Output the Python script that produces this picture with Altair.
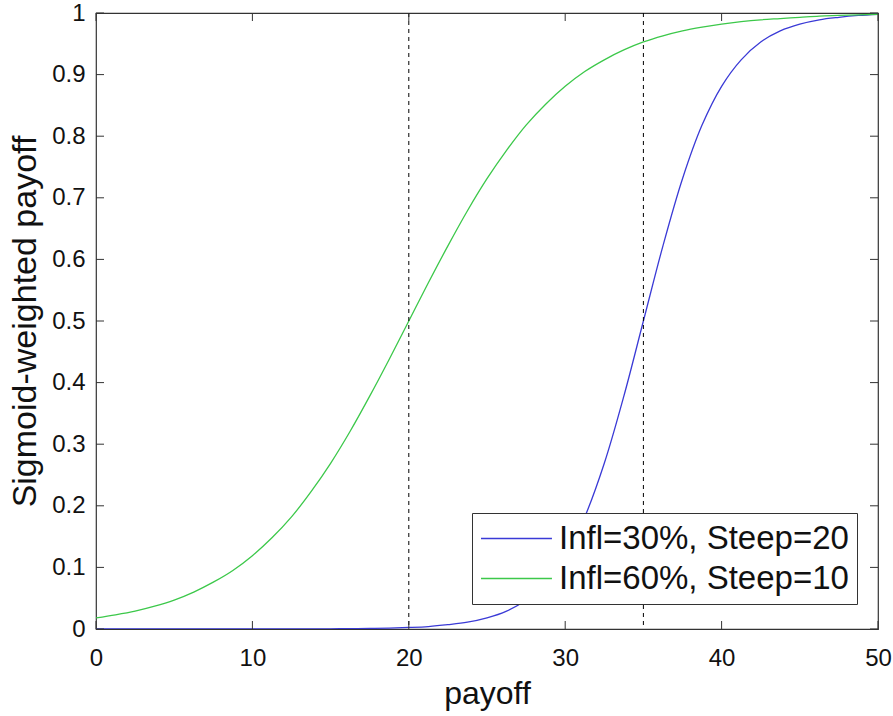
import altair as alt
import pandas as pd

# ---- data ----
payoff = [0, 1.25, 2.5, 3.75, 5, 6.25, 7.5, 8.75, 10, 11.25, 12.5, 13.75, 15, 16.25, 17.5, 18.75,
          20, 21.25, 22.5, 23.75, 25, 26.25, 27.5, 28.75, 30, 31.25, 32.5, 33.75, 35, 36.25,
          37.5, 38.75, 40, 41.25, 42.5, 43.75, 45, 46.25, 47.5, 48.75, 50]
infl30_steep20 = [0, 0, 0, 0, 0, 0, 0, 0, 0, 0.0001, 0.0001, 0.0002, 0.0003, 0.0005, 0.0009, 0.0015,
                  0.0025, 0.004, 0.007, 0.011, 0.018, 0.029, 0.047, 0.076, 0.119, 0.182, 0.269, 0.378,
                  0.500, 0.622, 0.731, 0.818, 0.881, 0.924, 0.953, 0.971, 0.982, 0.989, 0.993, 0.996,
                  0.998]
infl60_steep10 = [0.018, 0.023, 0.029, 0.037, 0.047, 0.060, 0.076, 0.095, 0.119, 0.148, 0.182, 0.223,
                  0.269, 0.321, 0.378, 0.438, 0.500, 0.562, 0.622, 0.679, 0.731, 0.777, 0.818, 0.852,
                  0.881, 0.905, 0.924, 0.940, 0.953, 0.963, 0.971, 0.977, 0.982, 0.986, 0.989, 0.991,
                  0.993, 0.995, 0.996, 0.997, 0.998]
series_names = ["Infl=30%, Steep=20", "Infl=60%, Steep=10"]
series_colors = ["#3a3ad6", "#3cc84a"]
dashed_x = [20, 35]
x_ticks = [0, 10, 20, 30, 40, 50]
y_ticks = [0, 0.1, 0.2, 0.3, 0.4, 0.5, 0.6, 0.7, 0.8, 0.9, 1]

rows = []
for name, vals in zip(series_names, [infl30_steep20, infl60_steep10]):
    for x, y in zip(payoff, vals):
        rows.append({"payoff": x, "value": y, "series": name})
df = pd.DataFrame(rows)

W, H = 782, 616
FONT = "Liberation Sans"
TICK_COLOR = "#333333"
xscale = alt.Scale(domain=[0, 50], nice=False, zero=False)
yscale = alt.Scale(domain=[0, 1], nice=False, zero=False)

x_axis = alt.Axis(values=x_ticks, title="payoff", ticks=False, domain=False, grid=False,
                  labelFontSize=24, labelFont=FONT, labelColor="#111", labelPadding=17,
                  labelFlush=False, labelOverlap=False,
                  titleFontSize=32, titleFont=FONT, titleFontWeight="normal", titleColor="#111",
                  titleX=W / 2, titleY=74, titleBaseline="alphabetic", titleAlign="center")
y_axis = alt.Axis(values=y_ticks, format="~g", title="Sigmoid-weighted payoff", ticks=False,
                  domain=False, grid=False,
                  labelFontSize=24, labelFont=FONT, labelColor="#111", labelPadding=11,
                  labelFlush=False, labelOverlap=False,
                  titleFontSize=34, titleFont=FONT, titleFontWeight="normal", titleColor="#111",
                  titleAngle=270, titleX=-61, titleY=H / 2, titleBaseline="alphabetic",
                  titleAlign="center")

lines = alt.Chart(df).mark_line(strokeWidth=1.3, interpolate="catmull-rom", clip=True).encode(
    x=alt.X("payoff:Q", scale=xscale, axis=x_axis),
    y=alt.Y("value:Q", scale=yscale, axis=y_axis),
    color=alt.Color("series:N", scale=alt.Scale(domain=series_names, range=series_colors),
                    legend=alt.Legend(orient="none", legendX=376, legendY=500, title=None,
                                      labelFontSize=33, labelFont=FONT, labelColor="#111",
                                      labelLimit=500, symbolType="M-1,0H3.3", symbolSize=1089,
                                      symbolStrokeWidth=1.5, labelOffset=44, padding=8,
                                      rowPadding=5, strokeColor="#333333", fillColor="white",
                                      cornerRadius=0)),
)

dashed = alt.Chart(pd.DataFrame({"payoff": dashed_x})).mark_rule(
    color="black", strokeWidth=1, strokeDash=[4, 4]
).encode(x=alt.X("payoff:Q", scale=xscale, axis=x_axis))

xt = pd.DataFrame({"payoff": x_ticks})
yt = pd.DataFrame({"value": y_ticks})
xtick_bottom = alt.Chart(xt).mark_rule(color=TICK_COLOR, strokeWidth=1).encode(
    x=alt.X("payoff:Q", scale=xscale, axis=x_axis), y=alt.value(H), y2=alt.value(H - 8))
xtick_top = alt.Chart(xt).mark_rule(color=TICK_COLOR, strokeWidth=1).encode(
    x=alt.X("payoff:Q", scale=xscale, axis=x_axis), y=alt.value(0), y2=alt.value(8))
ytick_left = alt.Chart(yt).mark_rule(color=TICK_COLOR, strokeWidth=1).encode(
    y=alt.Y("value:Q", scale=yscale, axis=y_axis), x=alt.value(0), x2=alt.value(8))
ytick_right = alt.Chart(yt).mark_rule(color=TICK_COLOR, strokeWidth=1).encode(
    y=alt.Y("value:Q", scale=yscale, axis=y_axis), x=alt.value(W), x2=alt.value(W - 8))

chart = alt.layer(
    lines, dashed, xtick_bottom, xtick_top, ytick_left, ytick_right
).properties(
    width=W, height=H,
    padding={"left": 96, "top": 13, "right": 15, "bottom": 87},
    autosize=alt.AutoSizeParams(type="none"),
    background="white",
).configure_view(stroke="#333333", strokeWidth=1.2)

chart.save("out.html", embed_options={"renderer": "svg", "actions": False})
